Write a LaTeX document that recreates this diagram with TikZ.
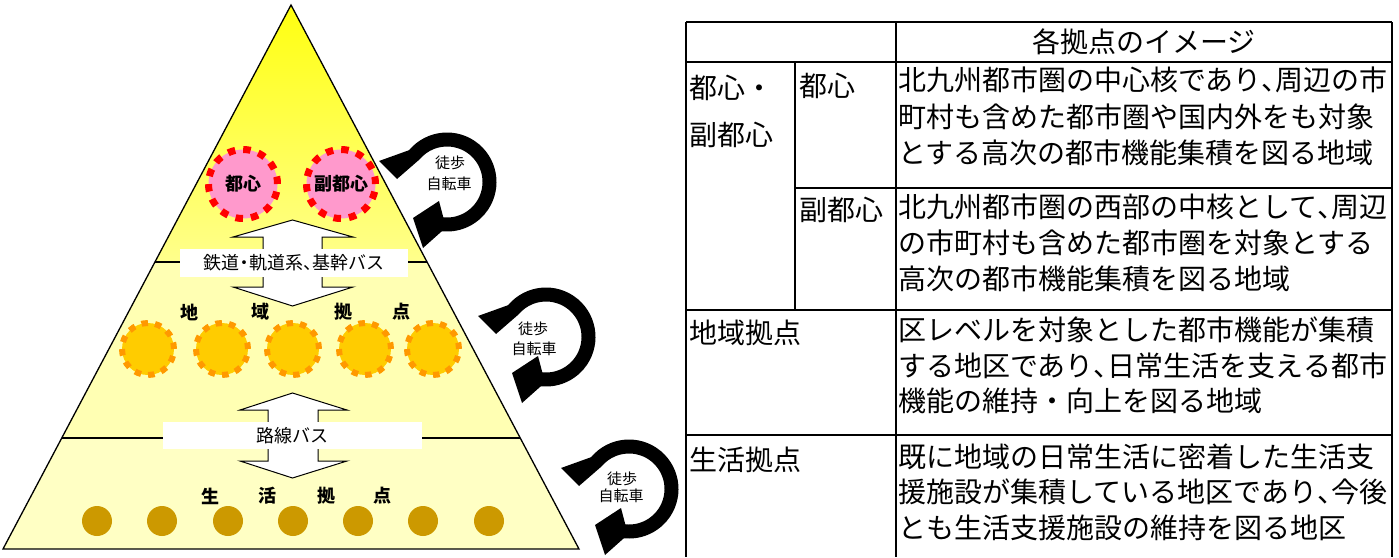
\documentclass[tikz,border=0pt]{standalone}
\usepackage{fontspec}
\newfontfamily\jp{Noto Sans CJK JP}
\definecolor{tierT}{HTML}{FFFF8C}
\definecolor{apexY}{HTML}{FFFF10}
\definecolor{tierM}{HTML}{FFFFB3}
\definecolor{tierB}{HTML}{FFFFC4}
\definecolor{pinkfill}{HTML}{FF99CC}
\definecolor{redring}{HTML}{FF0000}
\definecolor{orfill}{HTML}{FFCC00}
\definecolor{orring}{HTML}{FF9900}
\definecolor{goldc}{HTML}{CC9900}
\newcommand{\hc}{\makebox[0.5em][l]{、}}
\newcommand{\hdot}{\makebox[0.55em][c]{・}}
\begin{document}
\begin{tikzpicture}[x=1pt,y=-1pt,
  edge/.style={line width=1.3pt},
  barrow/.style={draw=black, fill=white, line width=1pt, line join=miter},
  labbox/.style={fill=white, inner sep=0pt},
  cityring/.style={circle, minimum size=69pt, inner sep=0pt, fill=pinkfill, draw=redring,
     line width=7pt, dash pattern=on 7.5pt off 8pt, font=\jp\bfseries\fontsize{18}{18}\selectfont},
  regring/.style={circle, minimum size=52pt, inner sep=0pt, fill=orfill, draw=orring,
     line width=6pt, dash pattern=on 6.5pt off 7.1pt},
  lifedot/.style={circle, minimum size=30pt, inner sep=0pt, fill=goldc},
  boldlbl/.style={inner sep=0pt, font=\jp\bfseries\fontsize{18}{18}\selectfont},
  modelbl/.style={inner sep=0pt, font=\jp\fontsize{18}{18}\selectfont},
  walklbl/.style={inner sep=0pt, font=\jp\fontsize{15}{15}\selectfont},
  tline/.style={line width=2pt},
  ttext/.style={inner sep=0pt, anchor=west, font=\jp\fontsize{28}{28}\selectfont},
  cycarrow/.pic={
    \begin{scope}[yscale=-1]
      \fill[black] (140:49.5) arc[start angle=140, end angle=-96, radius=49.5]
        -- (-24,-66) -- (-34,-36) -- (-8,-19) -- (-96:35.5)
        arc[start angle=-96, end angle=140, radius=35.5]
        -- (-50,3) -- (-68,21) -- cycle;
    \end{scope}
  }
]
\useasboundingbox (0,0) rectangle (1399,557);
\fill[white] (0,0) rectangle (1399,557);

% pyramid tiers
\shade[top color=apexY, bottom color=tierT] (291,5) -- (427.1,262) -- (154.9,262) -- cycle;
\fill[tierM] (154.9,262) -- (427.1,262) -- (520.2,438) -- (61.8,438) -- cycle;
\fill[tierB] (61.8,438) -- (520.2,438) -- (579,549) -- (3,549) -- cycle;
\draw[edge] (154.9,262) -- (427.1,262);
\draw[edge] (61.8,438) -- (520.2,438);
\draw[edge, line join=miter] (291,5) -- (579,549) -- (3,549) -- cycle;

% block arrows
\draw[barrow] (292.5,220) -- (353,237) -- (322,237) -- (322,287) -- (353,287) -- (292.5,306)
  -- (233,287) -- (263,287) -- (263,237) -- (233,237) -- cycle;
\draw[barrow] (292.5,393) -- (347,410) -- (318,410) -- (318,461) -- (347,461) -- (292.5,478)
  -- (240,461) -- (268,461) -- (268,410) -- (240,410) -- cycle;
\node[labbox, minimum width=228pt, minimum height=28pt] (box1) at (294,263) {};
\node[modelbl] (rail) at (294,263) {鉄道\hdot 軌道系\hc 基幹バス};
\node[labbox, minimum width=259pt, minimum height=27pt] (box2) at (292.5,435.5) {};
\node[modelbl] (bus) at (292.5,436) {路線バス};

% city centres
\node[cityring] (toshin) at (243,184) {都心};
\node[cityring] (fuku) at (341,184) {副都心};

% regional hubs
\node[boldlbl] (r1) at (189,312) {地};
\node[boldlbl] (r2) at (260,312) {域};
\node[boldlbl] (r3) at (343,312) {拠};
\node[boldlbl] (r4) at (401,312) {点};
\foreach \x [count=\i] in {148,222,293,365,433}
  \node[regring] (reg\i) at (\x,349) {};

% life hubs
\node[boldlbl] (l1) at (210,496) {生};
\node[boldlbl] (l2) at (267,496) {活};
\node[boldlbl] (l3) at (326,496) {拠};
\node[boldlbl] (l4) at (382,496) {点};
\foreach \x [count=\i] in {97,162,228,293,358,423,489}
  \node[lifedot] (life\i) at (\x,521) {};

% walking / cycling loops
\pic at (447,182) {cycarrow};
\node[walklbl] (w1a) at (450,163) {徒歩};
\node[walklbl] (w1b) at (449,184) {自転車};
\pic at (546,337) {cycarrow};
\node[walklbl] (w2a) at (533,329) {徒歩};
\node[walklbl] (w2b) at (534,349) {自転車};
\pic at (629,489) {cycarrow};
\node[walklbl] (w3a) at (622,479) {徒歩};
\node[walklbl] (w3b) at (621,496) {自転車};

% table grid
\draw[tline] (686,22) -- (1392,22);
\draw[tline] (686,62) -- (1392,62);
\draw[tline] (795,188) -- (1392,188);
\draw[tline] (686,310) -- (1392,310);
\draw[tline] (686,435) -- (1392,435);
\draw[tline] (686,22) -- (686,557);
\draw[tline] (795,62) -- (795,310);
\draw[tline] (896,22) -- (896,557);
\draw[tline] (1392,22) -- (1392,557);

% table text
\node[ttext, anchor=center] (head) at (1144,42) {各拠点のイメージ};
\node[ttext] (c1a) at (689,88) {都心・};
\node[ttext] (c1b) at (689,135) {副都心};
\node[ttext] (c2a) at (799,86) {都心};
\node[ttext] (c2b) at (799,210) {副都心};
\node[ttext] (c3) at (689,333) {地域拠点};
\node[ttext] (c4) at (689,460) {生活拠点};

\node[ttext] (t1a) at (898,80) {北九州都市圏の中心核であり\hc 周辺の市};
\node[ttext] (t1b) at (898,117) {町村も含めた都市圏や国内外をも対象};
\node[ttext] (t1c) at (898,153) {とする高次の都市機能集積を図る地域};
\node[ttext] (t2a) at (898,207) {北九州都市圏の西部の中核として\hc 周辺};
\node[ttext] (t2b) at (898,243) {の市町村も含めた都市圏を対象とする};
\node[ttext] (t2c) at (898,279) {高次の都市機能集積を図る地域};
\node[ttext] (t3a) at (898,330) {区レベルを対象とした都市機能が集積};
\node[ttext] (t3b) at (898,366) {する地区であり\hc 日常生活を支える都市};
\node[ttext] (t3c) at (898,401) {機能の維持・向上を図る地域};
\node[ttext] (t4a) at (898,457) {既に地域の日常生活に密着した生活支};
\node[ttext] (t4b) at (898,492) {援施設が集積している地区であり\hc 今後};
\node[ttext] (t4c) at (898,528) {とも生活支援施設の維持を図る地区};
\end{tikzpicture}
\end{document}
